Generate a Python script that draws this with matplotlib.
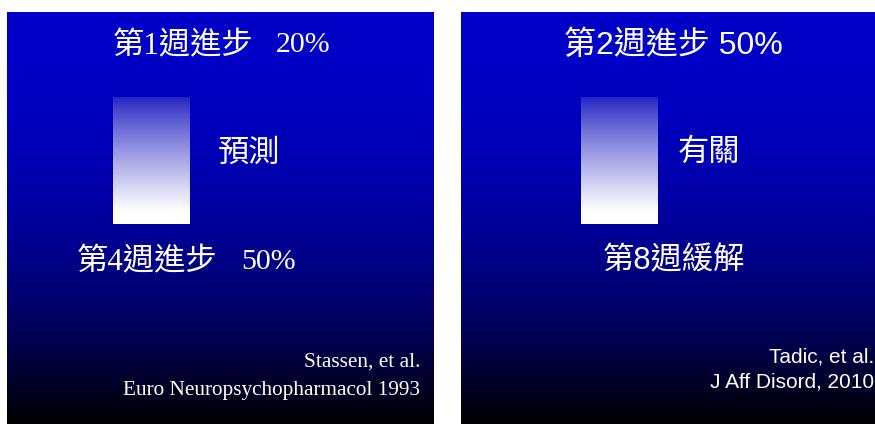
import numpy as np
import matplotlib.pyplot as plt

# 兩張投影片的文字
panel_x = [7, 461]          # 左邊界 (px)
panel_right = [434, 875]
box_x = [113, 581]
titles = ["第1週進步", "第2週進步"]
title_pcts = ["20%", "50%"]
middles = ["預測", "有關"]
lowers = ["第4週進步", "第8週緩解"]
lower_pcts = ["50%", ""]
refs_line1 = ["Stassen, et al.", "Tadic, et al."]
refs_line2 = ["Euro Neuropsychopharmacol 1993", "J Aff Disord, 2010"]

W, H = 875, 424
fig = plt.figure(figsize=(W / 100, H / 100), dpi=100)
fig.patch.set_facecolor('white')
ax = fig.add_axes([0, 0, 1, 1])
ax.set_xlim(0, W)
ax.set_ylim(H, 0)
ax.axis('off')

serif = ['Liberation Serif', 'Noto Sans CJK TC']
sans = ['Liberation Sans', 'Noto Sans CJK TC']

# 背景漸層: 藍 -> 黑
t = np.linspace(0, 1, 256)
b = 200 * (1 - t ** 2.2)
bg = np.zeros((256, 1, 3))
bg[:, 0, 2] = b / 255

# 方塊漸層: 藍 -> 白
s = np.clip(t / 0.9, 0, 1) ** 0.85
top = np.array([35, 35, 195]) / 255
box = (top[None, :] * (1 - s[:, None]) + s[:, None])[:, None, :]

for i in range(2):
    x0, x1 = panel_x[i], panel_right[i]
    ax.imshow(bg, extent=(x0, x1, H, 12), aspect='auto', interpolation='bilinear', zorder=1)
    bx = box_x[i]
    ax.imshow(box, extent=(bx, bx + 77, 224, 97), aspect='auto', interpolation='bilinear', zorder=2)

fs = 22.5
# 左圖
ax.text(113, 47, titles[0], color='white', fontsize=fs, family=serif, va='center', ha='left', zorder=3)
ax.text(276, 45, title_pcts[0], color='white', fontsize=fs - 1, family=serif, va='center', ha='left', zorder=3)
ax.text(218, 154, middles[0], color='white', fontsize=fs, family=serif, va='center', ha='left', zorder=3)
ax.text(77, 263, lowers[0], color='white', fontsize=fs, family=serif, va='center', ha='left', zorder=3)
ax.text(241, 262, lower_pcts[0], color='white', fontsize=fs - 1, family=serif, va='center', ha='left', zorder=3)
ax.text(420, 362, refs_line1[0], color='white', fontsize=15.3, family=serif, va='center', ha='right', zorder=3)
ax.text(420, 391, refs_line2[0], color='white', fontsize=15.3, family=serif, va='center', ha='right', zorder=3)

# 右圖
ax.text(673, 46, titles[1] + " " + title_pcts[1], color='white', fontsize=fs + 0.5, family=sans, va='center', ha='center', zorder=3)
ax.text(678, 153, middles[1], color='white', fontsize=fs, family=sans, va='center', ha='left', zorder=3)
ax.text(674, 261, lowers[1], color='white', fontsize=fs, family=sans, va='center', ha='center', zorder=3)
ax.text(874, 357, refs_line1[1], color='white', fontsize=15, family=sans, va='center', ha='right', zorder=3)
ax.text(874, 382, refs_line2[1], color='white', fontsize=15, family=sans, va='center', ha='right', zorder=3)

fig.savefig('out.png', dpi=100, facecolor='white')
